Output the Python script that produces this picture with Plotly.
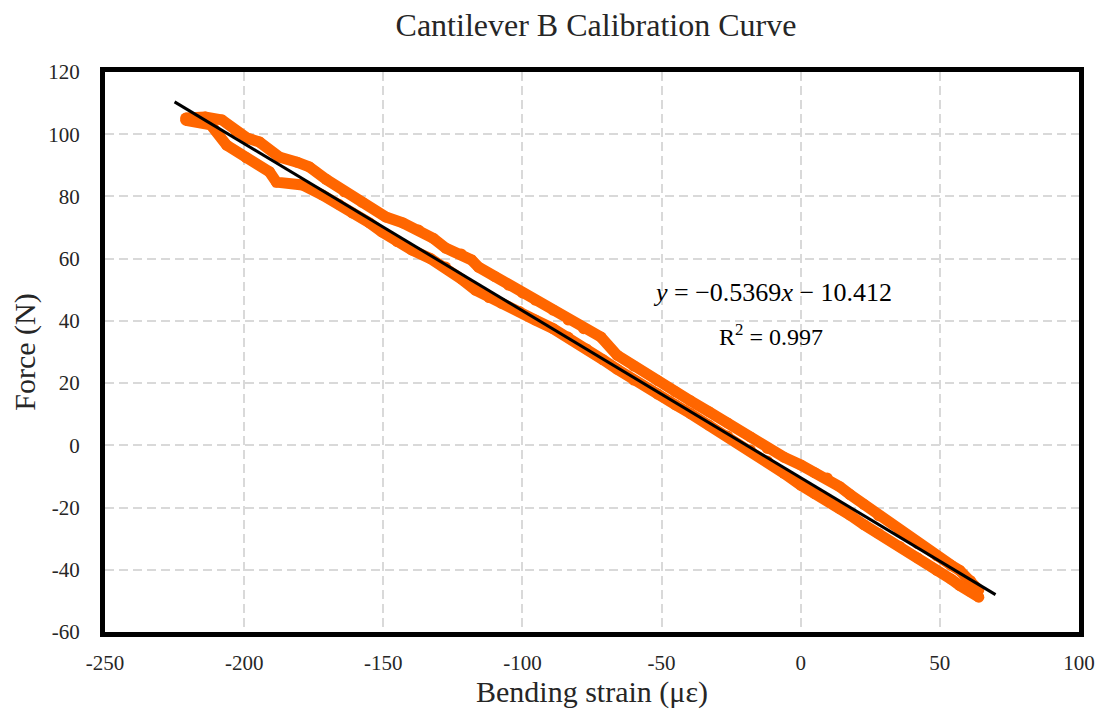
import plotly.graph_objects as go

# Upper branch of the hysteresis loop (strain in µε, force in N)
strain_upper = [-221, -214, -208, -203, -199, -194.5, -187.4, -181, -176.6, -170.5,
                -164, -157.7, -149.1, -143, -137.3, -132, -127.6, -122, -118.3, -115.8,
                -110, -105, -100, -95.4, -89, -83.6, -78, -71.8, -66, -60,
                -51.4, -45, -39.6, -33, -26.3, -18.1, -12, -6, 0, 5,
                9.5, 14, 17.7, 22.7, 28, 35.6, 42, 48.9, 54, 57.1, 61, 64]
force_upper = [105.2, 105.5, 104.6, 101.0, 98.8, 97.5, 92.7, 91.0, 89.5, 85.5,
               81.5, 78.2, 73.4, 71.5, 69.2, 66.5, 63.4, 61.5, 59.6, 57.3,
               54.3, 51.5, 49.0, 46.7, 43.5, 40.3, 37.5, 34.8, 29.0, 25.5,
               20.8, 17.2, 14.3, 10.8, 7.2, 2.7, -1.0, -3.8, -6.3, -8.8,
               -10.5, -13.3, -15.8, -19.0, -22.6, -27.8, -31.6, -35.5, -38.5, -40.2, -43.5, -46.5]

# Lower branch of the hysteresis loop
strain_lower = [-221, -212, -206.3, -199.2, -190.9, -188.4, -179.1, -172.0, -166, -161.2,
                -155, -150.5, -145, -139.8, -133, -127.6, -122, -116.9, -112, -107.6,
                -101, -95.4, -89, -83.6, -77, -71, -66, -60, -51.4, -45,
                -39.6, -33, -26.3, -18.1, -12, -6, 0, 5, 9.5, 14,
                17.7, 22.7, 28, 35.6, 42, 48.9, 54, 57.1, 61, 64]
force_lower = [104.5, 103.0, 96.5, 92.4, 87.9, 84.6, 83.7, 80.5, 77.5, 74.7,
               71.5, 68.6, 65.5, 62.8, 60.0, 57.3, 53.5, 49.9, 47.5, 45.7,
               43.0, 40.3, 37.5, 34.8, 31.0, 27.5, 24.5, 21.0, 16.5, 13.0,
               10.2, 6.5, 3.0, -1.5, -5.0, -9.0, -12.8, -15.5, -17.3, -20.3,
               -22.4, -25.5, -28.3, -32.5, -36.2, -40.2, -43.0, -45.0, -47.0, -48.8]

# Linear fit
slope = -0.5369
intercept = -10.412
fit_x = [-225, 70]
fit_y = [slope * v + intercept for v in fit_x]

x_ticks = [-250, -200, -150, -100, -50, 0, 50, 100]
y_ticks = [-60, -40, -20, 0, 20, 40, 60, 80, 100, 120]

orange = "#FF6600"
serif = "Liberation Serif, Times New Roman, serif"
text_col = "#262626"

fig = go.Figure()
for xs, ys in [(strain_upper, force_upper), (strain_lower, force_lower)]:
    fig.add_trace(go.Scatter(x=xs, y=ys, mode="lines+markers",
                             line=dict(color=orange, width=11),
                             marker=dict(color=orange, size=11),
                             showlegend=False, hoverinfo="skip"))
fig.add_trace(go.Scatter(x=fit_x, y=fit_y, mode="lines",
                         line=dict(color="black", width=3),
                         showlegend=False, hoverinfo="skip"))

common = dict(showgrid=True, gridcolor="#D9D9D9", gridwidth=1.5, griddash="9px,5px",
              zeroline=False, showline=True, linecolor="black", linewidth=5, mirror=True,
              ticks="", tickfont=dict(family=serif, size=21, color=text_col))

fig.update_xaxes(range=[-250, 100], tickvals=x_ticks, ticktext=[str(v) for v in x_ticks],
                 ticklabelstandoff=8,
                 title=dict(text="Bending strain (με)", font=dict(family=serif, size=30, color=text_col),
                            standoff=6), **common)
fig.update_yaxes(range=[-60, 120], tickvals=y_ticks, ticktext=[str(v) for v in y_ticks],
                 ticklabelstandoff=16,
                 title=dict(text="Force (N)", font=dict(family=serif, size=30, color=text_col),
                            standoff=6), **common)

fig.add_annotation(x=-10.2, y=49.0, xref="x", yref="y", showarrow=False,
                   text="<i>y</i> = −0.5369<i>x</i> − 10.412",
                   font=dict(family=serif, size=26, color="black"))
fig.add_annotation(x=-10.5, y=35.5, xref="x", yref="y", showarrow=False,
                   text="R<sup>2</sup> = 0.997",
                   font=dict(family=serif, size=24, color="black"))

fig.update_layout(
    width=1099, height=711,
    margin=dict(l=97, r=24, t=64, b=87),
    paper_bgcolor="white", plot_bgcolor="white",
    title=dict(text="Cantilever B Calibration Curve", x=0.535, xanchor="center",
               y=0.977, yanchor="middle", font=dict(family=serif, size=32, color=text_col)),
)

fig.write_html("out.html")
